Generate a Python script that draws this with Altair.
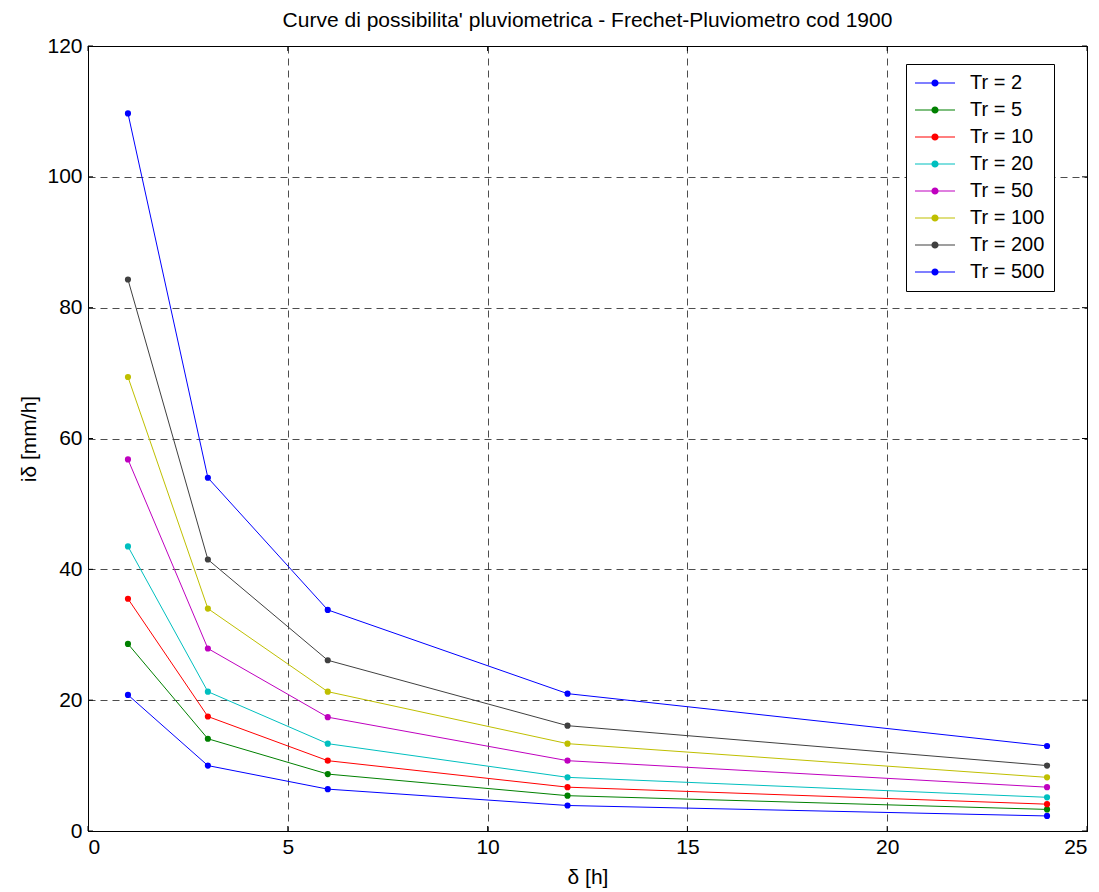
import altair as alt
import pandas as pd

durations = [1, 3, 6, 12, 24]
return_periods = [2, 5, 10, 20, 50, 100, 200, 500]
series = {
    2: [20.8, 10.0, 6.4, 3.9, 2.3],
    5: [28.6, 14.1, 8.7, 5.4, 3.3],
    10: [35.5, 17.5, 10.75, 6.7, 4.1],
    20: [43.5, 21.3, 13.35, 8.2, 5.15],
    50: [56.8, 27.9, 17.4, 10.75, 6.7],
    100: [69.4, 34.0, 21.3, 13.35, 8.2],
    200: [84.3, 41.5, 26.1, 16.1, 10.0],
    500: [109.7, 54.0, 33.8, 21.0, 13.0],
}
colors = ["#0000FF", "#008000", "#FF0000", "#00BFBF", "#BF00BF", "#BFBF00", "#404040", "#0000FF"]
x_ticks = [0, 5, 10, 15, 20, 25]
y_ticks = [0, 20, 40, 60, 80, 100, 120]

labels = [f"Tr = {t}" for t in return_periods]
rows = []
for t, lab in zip(return_periods, labels):
    for d, v in zip(durations, series[t]):
        rows.append({"d": d, "i": v, "Tr": lab})
df = pd.DataFrame(rows)

W, H = 999, 785
FONT = "Liberation Sans"
FS = 21

xscale = alt.Scale(domain=[0, 25], nice=False, zero=False)
yscale = alt.Scale(domain=[0, 120], nice=False, zero=False)

# legend symbol: thin filled bar (the line) plus a filled dot
sym = ("M-2,-0.05L2,-0.05L2,0.05L-2,0.05Z "
       "M0.36,0A0.36,0.36,0,1,1,-0.36,0A0.36,0.36,0,1,1,0.36,0Z")

base = alt.Chart(df)

lines = base.mark_line(strokeWidth=1).encode(
    x=alt.X("d:Q", scale=xscale,
            axis=alt.Axis(values=x_ticks, title="δ [h]", grid=True, ticks=False,
                          labelPadding=5, titlePadding=9)),
    y=alt.Y("i:Q", scale=yscale,
            axis=alt.Axis(values=y_ticks, title="iδ [mm/h]", grid=True, ticks=False,
                          labelPadding=6, titlePadding=7)),
    # same colour mapping, listed in reverse so that it stays a separate (legend-less) scale
    stroke=alt.Stroke("Tr:N", scale=alt.Scale(domain=labels[::-1], range=colors[::-1]), legend=None),
    detail="Tr:N",
)
points = base.mark_circle(size=38, opacity=1).encode(
    x="d:Q", y="i:Q",
    color=alt.Color(
        "Tr:N", sort=labels,
        scale=alt.Scale(domain=labels, range=colors),
        legend=alt.Legend(
            title=None,
            orient="none",
            legendX=818,
            legendY=18,
            symbolType=sym,
            symbolSize=400,
            symbolStrokeWidth=0,
            symbolOpacity=1,
            symbolOffset=10,
            labelFontSize=20,
            labelFont=FONT,
            labelColor="#000",
            labelOffset=25,
            rowPadding=7,
            padding=9,
            strokeColor="#000",
            fillColor="#fff",
        ),
    ),
)

xt = pd.DataFrame({"v": x_ticks})
yt = pd.DataFrame({"v": y_ticks})
tick_len = 5
xb = alt.Chart(xt).mark_rule(color="#000", strokeWidth=1).encode(
    x=alt.X("v:Q", scale=xscale), y=alt.value(H), y2=alt.value(H - tick_len))
xtop = alt.Chart(xt).mark_rule(color="#000", strokeWidth=1).encode(
    x=alt.X("v:Q", scale=xscale), y=alt.value(0), y2=alt.value(tick_len))
yl = alt.Chart(yt).mark_rule(color="#000", strokeWidth=1).encode(
    y=alt.Y("v:Q", scale=yscale), x=alt.value(0), x2=alt.value(tick_len))
yr = alt.Chart(yt).mark_rule(color="#000", strokeWidth=1).encode(
    y=alt.Y("v:Q", scale=yscale), x=alt.value(W), x2=alt.value(W - tick_len))

chart = alt.layer(lines, points, xb, xtop, yl, yr).properties(
    width=W, height=H,
    background="#fff",
    title=alt.TitleParams("Curve di possibilita' pluviometrica - Frechet-Pluviometro cod 1900",
                          font=FONT, fontSize=FS, fontWeight="normal", color="#000",
                          anchor="middle", offset=4),
    autosize=alt.AutoSizeParams(type="none"),
    padding={"left": 80, "top": 38, "right": 4, "bottom": 61},
).configure_view(stroke="#000", strokeWidth=1).configure_axis(
    labelFont=FONT, labelFontSize=FS, labelColor="#000",
    titleFont=FONT, titleFontSize=FS, titleColor="#000", titleFontWeight="normal",
    domainColor="#000", domainWidth=1,
    gridColor="#000", gridDash=[7, 5], gridWidth=0.7, gridOpacity=1,
)

chart.save("out.html", embed_options={"renderer": "svg", "actions": False})
